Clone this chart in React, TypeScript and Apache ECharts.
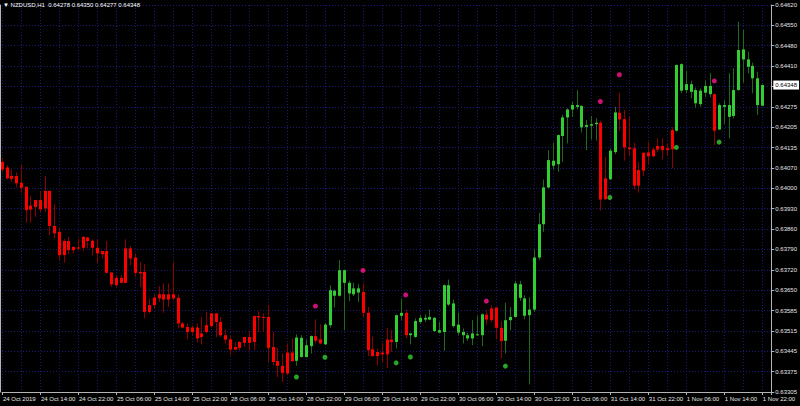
import React, { useEffect, useRef } from 'react';
import * as echarts from 'echarts';

// ---- data (NZDUSD H1) ----
const open = [
  0.64087, 0.64068, 0.64039, 0.64039, 0.64016, 0.64002, 0.63938, 0.63957, 0.63957, 0.63988,
  0.63988, 0.63869, 0.63849, 0.63818, 0.63818, 0.63798, 0.63796, 0.63832, 0.63830, 0.63819,
  0.63795, 0.63784, 0.63784, 0.63711, 0.63693, 0.63693, 0.63793, 0.63793, 0.63762, 0.63713,
  0.63713, 0.63600, 0.63626, 0.63637, 0.63637, 0.63637, 0.63637, 0.63625, 0.63538, 0.63526,
  0.63524, 0.63524, 0.63504, 0.63532, 0.63572, 0.63572, 0.63543, 0.63498, 0.63484, 0.63458,
  0.63475, 0.63492, 0.63492, 0.63563, 0.63563, 0.63560, 0.63560, 0.63458, 0.63410, 0.63394,
  0.63439, 0.63439, 0.63411, 0.63424, 0.63424, 0.63461, 0.63495, 0.63484, 0.63467, 0.63532,
  0.63632, 0.63632, 0.63676, 0.63640, 0.63637, 0.63643, 0.63645, 0.63574, 0.63450, 0.63441,
  0.63439, 0.63483, 0.63483, 0.63475, 0.63564, 0.63574, 0.63498, 0.63492, 0.63543, 0.63551,
  0.63551, 0.63512, 0.63507, 0.63509, 0.63602, 0.63529, 0.63507, 0.63498, 0.63487, 0.63487,
  0.63498, 0.63498, 0.63568, 0.63589, 0.63592, 0.63523, 0.63479, 0.63549, 0.63560, 0.63625,
  0.63564, 0.63566, 0.63585, 0.63762, 0.63875, 0.64000, 0.64074, 0.64079, 0.64175, 0.64238,
  0.64265, 0.64274, 0.64204, 0.64206, 0.64210, 0.64215, 0.64220, 0.64031, 0.64028, 0.64120,
  0.64254, 0.64232, 0.64136, 0.64133, 0.64059, 0.64118, 0.64119, 0.64129, 0.64141, 0.64141,
  0.64133, 0.64195, 0.64193, 0.64329, 0.64331, 0.64325, 0.64286, 0.64283, 0.64322, 0.64317,
  0.64317, 0.64197, 0.64274, 0.64240, 0.64243, 0.64331, 0.64435, 0.64410, 0.64371, 0.64280,
  0.64278,
];
const high = [
  0.64100, 0.64076, 0.64061, 0.64051, 0.64076, 0.64004, 0.63971, 0.63958, 0.63988, 0.64039,
  0.63990, 0.63943, 0.63864, 0.63825, 0.63832, 0.63799, 0.63827, 0.63835, 0.63832, 0.63824,
  0.63824, 0.63785, 0.63818, 0.63712, 0.63702, 0.63702, 0.63824, 0.63801, 0.63776, 0.63747,
  0.63739, 0.63623, 0.63637, 0.63665, 0.63674, 0.63674, 0.63747, 0.63637, 0.63543, 0.63538,
  0.63532, 0.63538, 0.63560, 0.63577, 0.63574, 0.63574, 0.63560, 0.63517, 0.63495, 0.63475,
  0.63478, 0.63493, 0.63512, 0.63564, 0.63580, 0.63572, 0.63600, 0.63509, 0.63455, 0.63436,
  0.63470, 0.63489, 0.63501, 0.63498, 0.63483, 0.63497, 0.63552, 0.63535, 0.63540, 0.63668,
  0.63653, 0.63753, 0.63720, 0.63683, 0.63676, 0.63671, 0.63674, 0.63594, 0.63493, 0.63453,
  0.63472, 0.63523, 0.63515, 0.63568, 0.63623, 0.63585, 0.63506, 0.63555, 0.63566, 0.63569,
  0.63585, 0.63560, 0.63543, 0.63670, 0.63687, 0.63619, 0.63574, 0.63521, 0.63506, 0.63549,
  0.63564, 0.63572, 0.63583, 0.63600, 0.63593, 0.63546, 0.63608, 0.63593, 0.63683, 0.63683,
  0.63634, 0.63627, 0.63789, 0.63914, 0.64027, 0.64127, 0.64152, 0.64180, 0.64246, 0.64269,
  0.64291, 0.64331, 0.64280, 0.64229, 0.64243, 0.64235, 0.64227, 0.64104, 0.64133, 0.64274,
  0.64322, 0.64263, 0.64240, 0.64152, 0.64087, 0.64119, 0.64155, 0.64137, 0.64167, 0.64167,
  0.64150, 0.64206, 0.64418, 0.64422, 0.64397, 0.64363, 0.64339, 0.64337, 0.64363, 0.64388,
  0.64319, 0.64286, 0.64297, 0.64388, 0.64405, 0.64563, 0.64535, 0.64461, 0.64424, 0.64393,
  0.64350,
];
const low = [
  0.64052, 0.64027, 0.64019, 0.64000, 0.63982, 0.63880, 0.63880, 0.63900, 0.63917, 0.63917,
  0.63838, 0.63827, 0.63753, 0.63744, 0.63773, 0.63776, 0.63787, 0.63784, 0.63793, 0.63769,
  0.63744, 0.63759, 0.63708, 0.63662, 0.63662, 0.63674, 0.63674, 0.63736, 0.63696, 0.63662,
  0.63555, 0.63572, 0.63590, 0.63611, 0.63574, 0.63594, 0.63617, 0.63521, 0.63521, 0.63484,
  0.63498, 0.63475, 0.63467, 0.63504, 0.63524, 0.63491, 0.63492, 0.63470, 0.63430, 0.63447,
  0.63447, 0.63458, 0.63444, 0.63447, 0.63509, 0.63509, 0.63407, 0.63396, 0.63356, 0.63339,
  0.63362, 0.63407, 0.63394, 0.63422, 0.63422, 0.63436, 0.63470, 0.63467, 0.63464, 0.63523,
  0.63592, 0.63629, 0.63515, 0.63614, 0.63631, 0.63611, 0.63560, 0.63427, 0.63425, 0.63396,
  0.63407, 0.63387, 0.63441, 0.63453, 0.63549, 0.63487, 0.63467, 0.63490, 0.63538, 0.63543,
  0.63549, 0.63509, 0.63504, 0.63445, 0.63597, 0.63524, 0.63498, 0.63470, 0.63479, 0.63464,
  0.63495, 0.63461, 0.63532, 0.63543, 0.63483, 0.63419, 0.63436, 0.63515, 0.63558, 0.63615,
  0.63552, 0.63331, 0.63577, 0.63753, 0.63849, 0.63997, 0.64061, 0.64053, 0.64087, 0.64150,
  0.64240, 0.64265, 0.64187, 0.64127, 0.64163, 0.64159, 0.63921, 0.63958, 0.64025, 0.64113,
  0.64193, 0.64091, 0.64107, 0.63993, 0.63982, 0.64039, 0.64079, 0.64103, 0.64121, 0.64096,
  0.64110, 0.64065, 0.64190, 0.64320, 0.64320, 0.64303, 0.64271, 0.64274, 0.64308, 0.64306,
  0.64144, 0.64195, 0.64215, 0.64167, 0.64235, 0.64329, 0.64356, 0.64388, 0.64320, 0.64246,
  0.64277,
];
const close = [
  0.64061, 0.64031, 0.64029, 0.64014, 0.63999, 0.63923, 0.63925, 0.63934, 0.63926, 0.63929,
  0.63869, 0.63844, 0.63770, 0.63770, 0.63787, 0.63787, 0.63794, 0.63795, 0.63818, 0.63795,
  0.63776, 0.63773, 0.63710, 0.63671, 0.63668, 0.63676, 0.63676, 0.63759, 0.63710, 0.63708,
  0.63577, 0.63577, 0.63600, 0.63623, 0.63619, 0.63619, 0.63623, 0.63538, 0.63524, 0.63509,
  0.63509, 0.63487, 0.63492, 0.63509, 0.63529, 0.63543, 0.63498, 0.63483, 0.63449, 0.63449,
  0.63455, 0.63472, 0.63472, 0.63475, 0.63558, 0.63557, 0.63455, 0.63407, 0.63394, 0.63370,
  0.63368, 0.63410, 0.63490, 0.63489, 0.63464, 0.63495, 0.63479, 0.63470, 0.63534, 0.63651,
  0.63649, 0.63719, 0.63719, 0.63676, 0.63657, 0.63657, 0.63574, 0.63447, 0.63427, 0.63427,
  0.63433, 0.63433, 0.63475, 0.63566, 0.63574, 0.63498, 0.63504, 0.63546, 0.63557, 0.63557,
  0.63560, 0.63557, 0.63515, 0.63668, 0.63668, 0.63606, 0.63534, 0.63509, 0.63498, 0.63504,
  0.63501, 0.63569, 0.63551, 0.63549, 0.63523, 0.63478, 0.63549, 0.63560, 0.63674, 0.63671,
  0.63623, 0.63585, 0.63762, 0.63875, 0.64000, 0.64093, 0.64091, 0.64178, 0.64238, 0.64265,
  0.64280, 0.64280, 0.64277, 0.64212, 0.64215, 0.64220, 0.63959, 0.63960, 0.64125, 0.64255,
  0.64231, 0.64136, 0.64130, 0.64006, 0.64006, 0.64057, 0.64106, 0.64106, 0.64129, 0.64127,
  0.64127, 0.64130, 0.64416, 0.64419, 0.64351, 0.64351, 0.64331, 0.64329, 0.64345, 0.64345,
  0.64193, 0.64280, 0.64280, 0.64280, 0.64331, 0.64467, 0.64469, 0.64435, 0.64413, 0.64371,
  0.64348,
];

// fractal-style markers
const upMarkIndex = [66, 76, 85, 102, 126, 130, 150];
const upMarkPrice = [0.63597, 0.63718, 0.63635, 0.63614, 0.64292, 0.64383, 0.64362];
const downMarkIndex = [62, 68, 83, 86, 106, 128, 142, 151];
const downMarkPrice = [0.63356, 0.63423, 0.63404, 0.63424, 0.63393, 0.63966, 0.64136, 0.64154];

// price-axis tick labels, bottom to top
const priceTickLabels = [
  '0.63305', '0.63375', '0.63445', '0.63515', '0.63585', '0.63650', '0.63720',
  '0.63790', '0.63860', '0.63930', '0.64000', '0.64070', '0.64135', '0.64205',
  '0.64275', '0.64345', '0.64410', '0.64480', '0.64550', '0.64620',
];
const priceMin = 0.63305;
const priceMax = 0.64620;

// trading days: [label, first hour, last hour]
const tradingDays: [string, number, number][] = [
  ['24 Oct', 6, 23], ['25 Oct', 0, 23], ['28 Oct', 0, 23], ['29 Oct', 0, 23],
  ['30 Oct', 0, 23], ['31 Oct', 0, 23], ['1 Nov', 0, 22],
];
const firstLabel = '24 Oct 2019';
const symbolTitle = 'NZDUSD,H1';

const categories: string[] = [];
tradingDays.forEach(([d, h0, h1]) => {
  for (let h = h0; h <= h1; h++) categories.push(`${d} ${String(h).padStart(2, '0')}:00`);
});
categories[0] = firstLabel;
categories.push('', ''); // right-side shift space

const FONT = '"Liberation Sans", Arial, sans-serif';
const FS = 6;
const BULL = '#32cd32';
const BEAR = '#ff0000';
const BULL_WICK = '#1e6b1e';
const BEAR_WICK = '#8b0000';
const GRID = '#1a1a78';
const AXIS = '#b4b4b4';
const TEXT = '#e6e6e6';

export default function App() {
  const ref = useRef<HTMLDivElement>(null);
  useEffect(() => {
    document.body.style.margin = '0';
    document.body.style.background = '#000';
    const chart = echarts.init(ref.current!, undefined, { renderer: 'svg' });
    const n = open.length;
    const last = n - 1;
    const title = `\u25BC ${symbolTitle}  ${open[last].toFixed(5)} ${high[last].toFixed(5)} ${low[last].toFixed(5)} ${close[last].toFixed(5)}`;
    const candleData = open.map((o, i) => [i, o, close[i], low[i], high[i]]);

    chart.setOption({
      animation: false,
      backgroundColor: '#000',
      title: {
        text: title,
        left: 3,
        top: 2,
        padding: 0,
        textStyle: { color: '#ffffff', fontSize: FS, fontWeight: 'normal', fontFamily: FONT },
      },
      grid: { left: 2, right: 28.5, top: 5, bottom: 14 },
      xAxis: {
        type: 'category',
        data: categories,
        boundaryGap: false,
        axisLine: { show: true, lineStyle: { color: AXIS, width: 1 } },
        axisTick: { show: true, interval: 7, length: 3, inside: false, lineStyle: { color: AXIS } },
        axisLabel: {
          interval: 7,
          showMinLabel: true,
          showMaxLabel: true,
          color: TEXT,
          fontSize: FS,
          fontFamily: FONT,
          align: 'left',
          margin: 4,
          padding: [0, 0, 0, 1],
        },
        splitLine: { show: true, interval: 3, lineStyle: { color: GRID, type: [1, 2], width: 1 } },
      },
      yAxis: [
        {
          type: 'value',
          position: 'left',
          offset: 2,
          min: priceMin,
          max: priceMax,
          axisLine: { show: true, lineStyle: { color: AXIS } },
          axisTick: { show: false },
          axisLabel: { show: false },
          splitLine: { show: false },
        },
        {
          type: 'value',
          position: 'right',
          min: 0,
          max: priceTickLabels.length - 1,
          interval: 1,
          axisLine: { show: true, lineStyle: { color: AXIS } },
          axisTick: { show: true, length: 3, lineStyle: { color: AXIS } },
          axisLabel: {
            color: TEXT,
            fontSize: FS,
            fontFamily: FONT,
            margin: 4,
            formatter: (v: number) => priceTickLabels[Math.round(v)] ?? '',
          },
          splitLine: { show: true, lineStyle: { color: GRID, type: [1, 2], width: 1 } },
        },
      ],
      series: [
        {
          type: 'custom',
          xAxisIndex: 0,
          yAxisIndex: 0,
          data: candleData,
          encode: { x: 0, y: [1, 2, 3, 4] },
          renderItem: (params: any, api: any) => {
            const i = api.value(0);
            const o = api.value(1);
            const c = api.value(2);
            const l = api.value(3);
            const h = api.value(4);
            const pO = api.coord([i, o]);
            const pC = api.coord([i, c]);
            const pL = api.coord([i, l]);
            const pH = api.coord([i, h]);
            const x = Math.round(pO[0]);
            const up = c >= o;
            const top = Math.min(pO[1], pC[1]);
            const bot = Math.max(pO[1], pC[1]);
            return {
              type: 'group',
              children: [
                {
                  type: 'line',
                  shape: { x1: x + 0.5, y1: pH[1], x2: x + 0.5, y2: pL[1] },
                  style: { stroke: up ? BULL_WICK : BEAR_WICK, lineWidth: 1 },
                },
                {
                  type: 'rect',
                  shape: { x: x - 1, y: top, width: 3, height: Math.max(1, bot - top) },
                  style: { fill: up ? BULL : BEAR },
                },
              ],
            };
          },
          z: 3,
        },
        {
          type: 'scatter',
          xAxisIndex: 0,
          yAxisIndex: 0,
          symbol: 'circle',
          symbolSize: 5,
          itemStyle: { color: '#ff1493' },
          data: upMarkIndex.map((idx, k) => [idx, upMarkPrice[k]]),
          z: 4,
          markLine: {
            silent: true,
            precision: 5,
            symbol: ['none', 'none'],
            lineStyle: { width: 0, color: 'rgba(0,0,0,0)', type: 'solid' },
            data: [{ yAxis: close[last] }],
            label: {
              show: true,
              position: 'end',
              distance: 2,
              formatter: close[last].toFixed(5),
              color: '#000000',
              backgroundColor: '#ffffff',
              fontSize: FS,
              fontFamily: FONT,
              padding: [2, 2, 1, 2],
            },
          },
        },
        {
          type: 'scatter',
          xAxisIndex: 0,
          yAxisIndex: 0,
          symbol: 'circle',
          symbolSize: 5,
          itemStyle: { color: BULL },
          data: downMarkIndex.map((idx, k) => [idx, downMarkPrice[k]]),
          z: 4,
        },
      ],
    });
    return () => chart.dispose();
  }, []);
  return (
    <div
      ref={ref}
      style={{ position: 'fixed', left: 0, top: 0, width: 800, height: 406, background: '#000' }}
    />
  );
}
